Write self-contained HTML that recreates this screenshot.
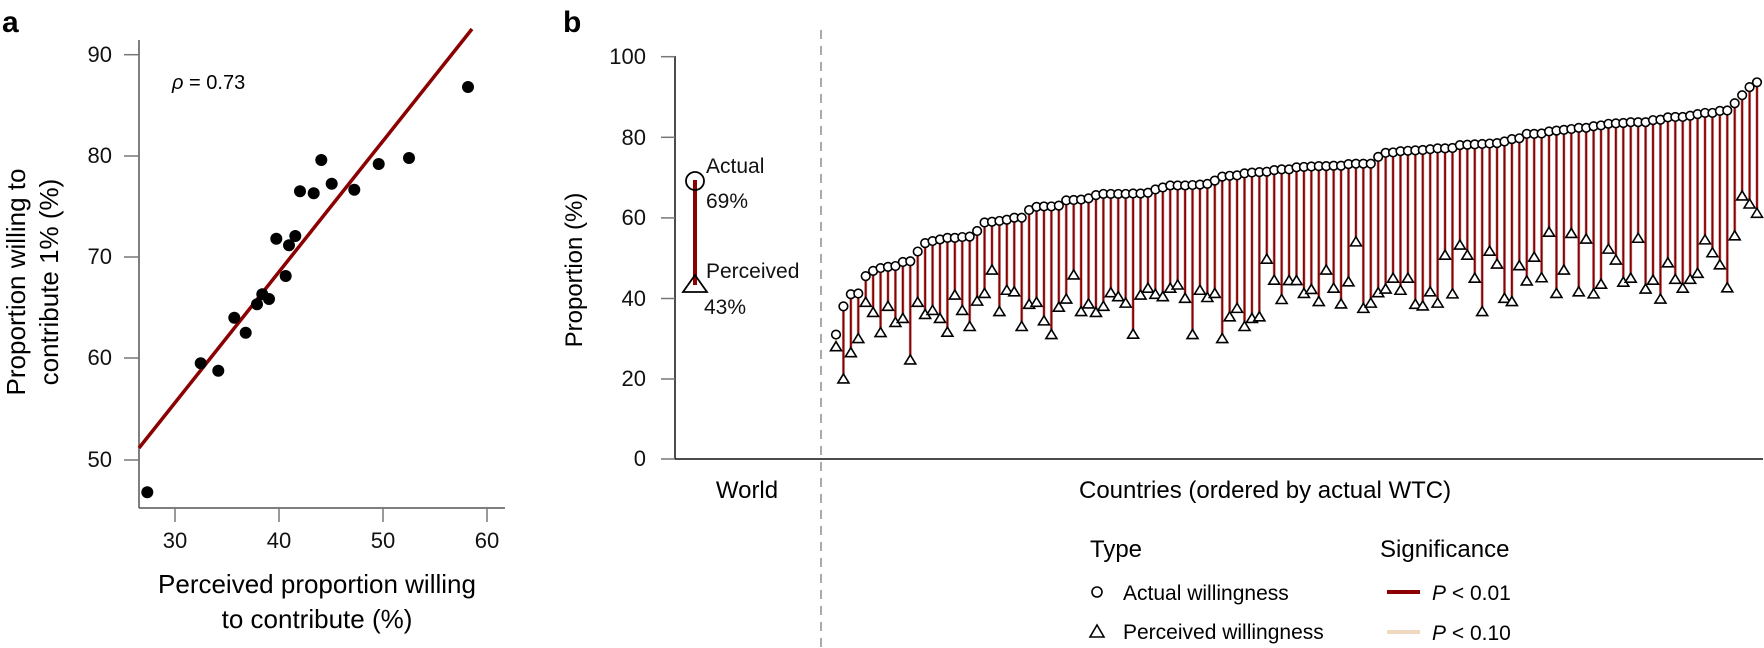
<!DOCTYPE html>
<html><head><meta charset="utf-8">
<style>
html,body{margin:0;padding:0;background:#fff;}
svg{display:block;font-family:"Liberation Sans",sans-serif;}
</style></head>
<body>
<svg id="s" width="1764" height="648" viewBox="0 0 1764 648" xmlns="http://www.w3.org/2000/svg">
<!-- Panel a -->
<text x="2" y="32" font-size="30" font-weight="bold">a</text>
<line x1="139" y1="40" x2="139" y2="508" stroke="#555" stroke-width="1.5"/>
<line x1="139" y1="508" x2="505" y2="508" stroke="#555" stroke-width="1.5"/>
<g stroke="#777" stroke-width="1.5">
<line x1="124" y1="54.7" x2="139" y2="54.7"/><line x1="124" y1="156" x2="139" y2="156"/>
<line x1="124" y1="257" x2="139" y2="257"/><line x1="124" y1="358" x2="139" y2="358"/>
<line x1="124" y1="460" x2="139" y2="460"/>
<line x1="175" y1="508" x2="175" y2="522"/><line x1="279" y1="508" x2="279" y2="522"/>
<line x1="383" y1="508" x2="383" y2="522"/><line x1="487" y1="508" x2="487" y2="522"/>
</g>
<g font-size="22" text-anchor="end" fill="#111">
<text x="112" y="62">90</text><text x="112" y="163">80</text><text x="112" y="264">70</text>
<text x="112" y="365">60</text><text x="112" y="467">50</text>
</g>
<g font-size="22" text-anchor="middle" fill="#111">
<text x="175" y="548">30</text><text x="279" y="548">40</text><text x="383" y="548">50</text><text x="487" y="548">60</text>
</g>
<text x="317" y="593" font-size="26" text-anchor="middle">Perceived proportion willing</text>
<text x="317" y="628" font-size="26" text-anchor="middle">to contribute (%)</text>
<text transform="translate(25,282) rotate(-90)" font-size="26" text-anchor="middle">Proportion willing to</text>
<text transform="translate(58,282) rotate(-90)" font-size="26" text-anchor="middle">contribute 1% (%)</text>
<text x="172" y="89" font-size="20"><tspan font-style="italic">ρ</tspan> = 0.73</text>
<line x1="139" y1="448" x2="472" y2="29" stroke="#8b0000" stroke-width="3.5"/>
<g fill="#000">
<circle cx="147.3" cy="492.3" r="6"/><circle cx="200.7" cy="363.3" r="6"/><circle cx="218.3" cy="370.7" r="6"/>
<circle cx="234.3" cy="317.7" r="6"/><circle cx="245.7" cy="332.7" r="6"/><circle cx="257" cy="304.3" r="6"/>
<circle cx="262.3" cy="294.3" r="6"/><circle cx="269" cy="299" r="6"/><circle cx="285.7" cy="276" r="6"/>
<circle cx="276.3" cy="238.7" r="6"/><circle cx="289" cy="245.3" r="6"/><circle cx="295.3" cy="236" r="6"/>
<circle cx="300" cy="191.3" r="6"/><circle cx="313.7" cy="193.3" r="6"/><circle cx="321.3" cy="160" r="6"/>
<circle cx="331.7" cy="183.7" r="6"/><circle cx="354.3" cy="189.7" r="6"/><circle cx="378.7" cy="164" r="6"/>
<circle cx="409" cy="158" r="6"/><circle cx="468" cy="87" r="6"/>
</g>
<!-- Panel b -->
<text x="563" y="32" font-size="30" font-weight="bold">b</text>
<line x1="675" y1="56" x2="675" y2="459" stroke="#111" stroke-width="1.5"/>
<line x1="675" y1="459" x2="1763" y2="459" stroke="#111" stroke-width="1.5"/>
<g stroke="#777" stroke-width="1.5">
<line x1="661" y1="56.7" x2="675" y2="56.7"/><line x1="661" y1="137.3" x2="675" y2="137.3"/>
<line x1="661" y1="217.9" x2="675" y2="217.9"/><line x1="661" y1="298.5" x2="675" y2="298.5"/>
<line x1="661" y1="379" x2="675" y2="379"/><line x1="661" y1="459" x2="675" y2="459"/>
</g>
<g font-size="22" text-anchor="end" fill="#111">
<text x="646" y="64">100</text><text x="646" y="145">80</text><text x="646" y="225">60</text>
<text x="646" y="306">40</text><text x="646" y="386">20</text><text x="646" y="466">0</text>
</g>
<text transform="translate(582,270) rotate(-90)" font-size="24" text-anchor="middle">Proportion (%)</text>
<line x1="821" y1="30" x2="821" y2="648" stroke="#aaa" stroke-width="2" stroke-dasharray="9,7"/>
<line x1="695" y1="180" x2="695" y2="285" stroke="#8b0000" stroke-width="4"/>
<circle cx="695" cy="181" r="9" fill="none" stroke="#000" stroke-width="1.8"/>
<polygon points="695,275 683,292 707,292" fill="none" stroke="#000" stroke-width="1.8"/>
<g font-size="21" fill="#111">
<text x="706" y="173">Actual</text><text x="706" y="208">69%</text>
<text x="706" y="278">Perceived</text><text x="704" y="314">43%</text>
</g>
<text x="747" y="498" font-size="24" text-anchor="middle">World</text>
<text x="1079" y="498" font-size="24">Countries (ordered by actual WTC)</text>
<g id="pts"></g>
<!-- Legend -->
<text x="1090" y="557" font-size="24">Type</text>
<text x="1380" y="557" font-size="24">Significance</text>
<circle cx="1097" cy="592" r="5" fill="none" stroke="#000" stroke-width="1.6"/>
<polygon points="1097,625 1090,637 1104,637" fill="none" stroke="#000" stroke-width="1.6"/>
<text x="1123" y="600" font-size="21">Actual willingness</text>
<text x="1123" y="639" font-size="21">Perceived willingness</text>
<line x1="1387" y1="592" x2="1420" y2="592" stroke="#8b0000" stroke-width="4"/>
<line x1="1387" y1="632" x2="1420" y2="632" stroke="#f0d9bf" stroke-width="4"/>
<text x="1432" y="600" font-size="21"><tspan font-style="italic">P</tspan> &lt; 0.01</text>
<text x="1432" y="640" font-size="21"><tspan font-style="italic">P</tspan> &lt; 0.10</text>
</svg>
<script>
var A=[31,38,41,41.2,45.5,46.8,47.5,47.8,48,49,49.2,51.6,53.7,54.2,54.6,55,55,55.2,55.3,56.7,58.8,59,59.2,59.5,60,60,61.9,62.7,62.8,62.8,63,64.3,64.4,64.5,64.8,65.6,65.9,65.9,65.9,65.9,66,66,66.2,67,67.5,68,68,68,68.1,68.2,68.4,69.2,70.2,70.4,70.5,71,71.2,71.3,71.4,71.8,72,72,72.5,72.6,72.7,72.8,72.8,72.9,72.9,73.3,73.4,73.4,73.4,75.1,76.1,76.2,76.5,76.6,76.7,76.8,77,77.2,77.2,77.3,78,78.1,78.2,78.3,78.4,78.5,78.9,79.5,79.7,80.8,80.8,80.9,81.4,81.6,81.8,82,82.3,82.3,82.7,82.9,83.3,83.4,83.5,83.7,83.7,83.7,84.2,84.3,84.9,85,85,85.3,85.7,86,86,86.5,86.6,88.4,90.4,92.4,93.6];
var P=[28,20,26.5,30,39,36.5,31.5,38,34,35,24.7,39,36,37,35,31.6,40.8,37,33,39.3,41.2,47,36.7,42,41.6,33,38.5,39,34.4,31,37.8,39.8,45.8,36.7,38.6,36.5,38,41.4,40.4,38.8,31.1,
40.8,42.5,41,40.4,42.5,43.3,40,31,42,40.2,41.2,30,35.4,37.5,33,35,35.4,49.7,44.5,39.7,44.4,44.4,41.2,42.2,39.2,47,42.5,38.6,44.1,54,37.5,38.8,41.4,42.3,45,42,45,38.5,38.1,41.6,38.8,50.7,41.1,53.2,50.7,45,
36.7,51.7,48.5,40,39.2,48.1,44.3,50.2,45.1,56.4,41.2,47,
56.1,41.6,54.7,41.1,43.5,52.2,49.5,44,45,54.9,42.3,44.5,39.8,48.8,44.7,42.5,44.7,46.2,54.5,51.3,48.3,42.6,55.5,65.4,63.4,61.1];
var n=Math.min(A.length,P.length),s='';
function Y(v){return 459.5-v*4.03;}
for(var i=0;i<n;i++){
 var x=836+i*(1757-836)/(n-1),ya=Y(A[i]),yp=Y(P[i]);
 if(i==0){s+='<line x1="'+x+'" y1="'+ya+'" x2="'+x+'" y2="'+yp+'" stroke="#f0d9bf" stroke-width="2.5"/>';}
 else{s+='<line x1="'+x+'" y1="'+ya+'" x2="'+x+'" y2="'+yp+'" stroke="#c8a0a0" stroke-width="3"/>';
 s+='<line x1="'+x+'" y1="'+ya+'" x2="'+x+'" y2="'+yp+'" stroke="#8b0000" stroke-width="1.8"/>';}
}
for(var i=0;i<n;i++){
 var x=836+i*(1757-836)/(n-1),ya=Y(A[i]),yp=Y(P[i]);
 s+='<polygon points="'+x+','+(yp-5)+' '+(x-5.5)+','+(yp+4)+' '+(x+5.5)+','+(yp+4)+'" fill="#fff" stroke="#000" stroke-width="1.6"/>';
 s+='<circle cx="'+x+'" cy="'+ya+'" r="4.3" fill="#fff" stroke="#000" stroke-width="1.6"/>';
}
document.getElementById('pts').innerHTML=s;
</script>
</body></html>
